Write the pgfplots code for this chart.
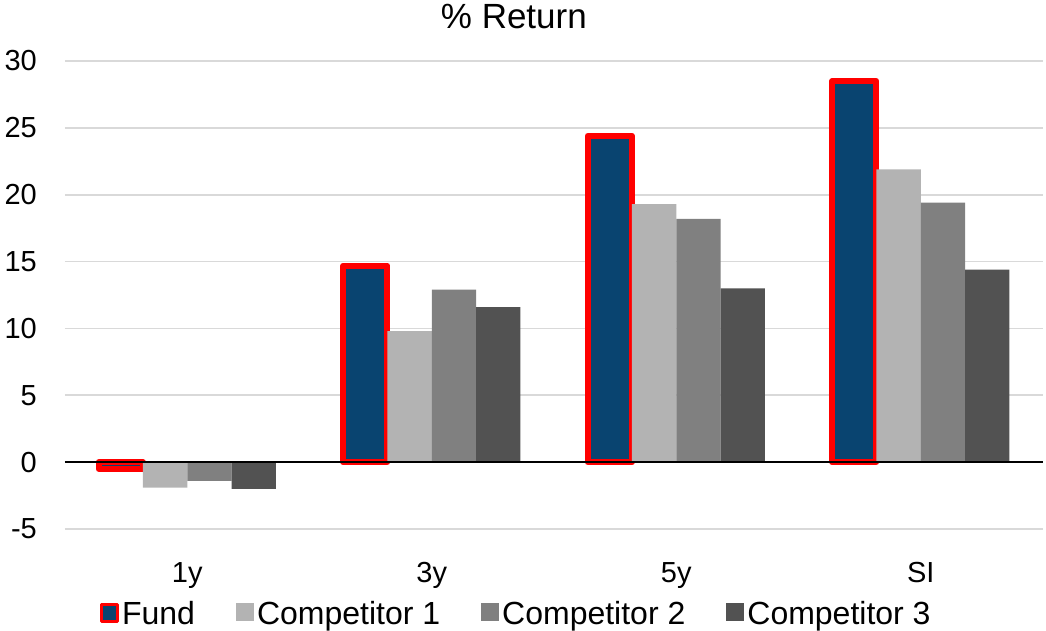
\documentclass[border=0pt]{standalone}
\usepackage{pgfplots}
\pgfplotsset{compat=1.18}
\usepackage{fontspec}
\setmainfont{Liberation Sans}

\definecolor{fundblue}{RGB}{9,68,112}
\definecolor{fundred}{RGB}{255,0,0}
\definecolor{compA}{RGB}{179,179,179}
\definecolor{compB}{RGB}{128,128,128}
\definecolor{compC}{RGB}{82,82,82}
\definecolor{gridgray}{RGB}{217,217,217}

\newcommand{\tickfont}{\fontsize{29}{35}\selectfont}
\newcommand{\legfont}{\fontsize{32}{38}\selectfont}

\begin{document}
\begin{tikzpicture}
\begin{axis}[
  name=ax,
  scale only axis,
  width=978pt, height=468pt,
  xmin=-0.5, xmax=3.5,
  ymin=-5, ymax=30,
  ybar=0pt,
  bar width=44.3pt,
  xtick={0,1,2,3},
  xticklabels={1y,3y,5y,SI},
  ytick={-5,0,5,10,15,20,25,30},
  yticklabels={-5,0,5,10,15,20,25,30},
  ymajorgrids,
  major grid style={gridgray, line width=1.8pt},
  axis line style={draw=none},
  tick style={draw=none},
  tick label style={font=\tickfont},
  yticklabel style={anchor=east, inner sep=0pt, xshift=-28pt},
  xticklabel style={anchor=base, inner sep=0pt, yshift=-49pt},
  title={\% Return},
  title style={font=\fontsize{35}{40}\selectfont, at={(0.459,1)}, anchor=base, inner sep=0pt, yshift=26pt},
  legend columns=4,
  legend style={
    draw=none, fill=none,
    at={(0.462,-0.18)}, anchor=center,
    font=\legfont,
    /tikz/every even column/.append style={column sep=38pt},
    nodes={inner sep=3pt},
  },
  legend cell align=left,
]
\addplot[draw=fundred, line width=6pt, line join=round, fill=fundblue,
  legend image code/.code={\draw[draw=fundred, fill=fundblue, line width=3pt, line join=round] (0pt,-8pt) rectangle (16pt,9pt);}]
  coordinates {(0,-0.5) (1,14.7) (2,24.4) (3,28.5)};
\addplot[draw=none, fill=compA,
  legend image code/.code={\fill[compA] (0pt,-8pt) rectangle (18pt,10pt);}]
  coordinates {(0,-1.9) (1,9.8) (2,19.3) (3,21.9)};
\addplot[draw=none, fill=compB,
  legend image code/.code={\fill[compB] (0pt,-8pt) rectangle (18pt,10pt);}]
  coordinates {(0,-1.4) (1,12.9) (2,18.2) (3,19.4)};
\addplot[draw=none, fill=compC,
  legend image code/.code={\fill[compC] (0pt,-8pt) rectangle (18pt,10pt);}]
  coordinates {(0,-2.0) (1,11.6) (2,13.0) (3,14.4)};
\legend{Fund,Competitor 1,Competitor 2,Competitor 3}
\draw[black, line width=2.3pt] (axis cs:-0.5,0) -- (axis cs:3.5,0);
\end{axis}
\path ([xshift=-65pt,yshift=-102pt]ax.south west) rectangle ([xshift=3pt,yshift=61pt]ax.north east);
\end{tikzpicture}
\end{document}
